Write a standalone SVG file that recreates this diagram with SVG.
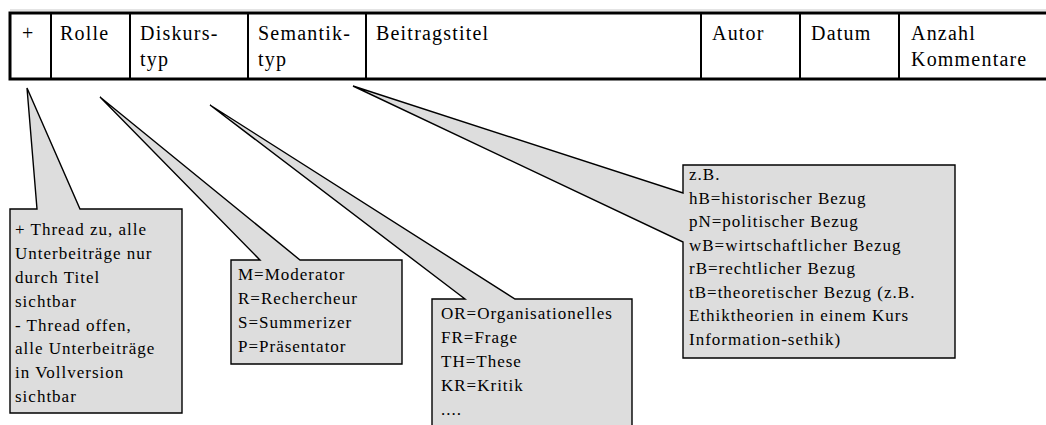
<svg xmlns="http://www.w3.org/2000/svg" width="1046" height="425" viewBox="0 0 1046 425">
<style>
.hd{font-family:"Liberation Serif","Times New Roman",serif;font-size:20px;letter-spacing:1.2px;fill:#000}
.ct{font-family:"Liberation Serif","Times New Roman",serif;font-size:17px;letter-spacing:1px;fill:#000}
.callout{fill:#dddddd;stroke:#000;stroke-width:1.4;stroke-linejoin:miter}
.div{stroke:#000;stroke-width:2}
</style>
<rect width="1046" height="425" fill="#fff"/>
<g id="table">
  <line x1="10" y1="10" x2="1046" y2="10" stroke="#c8c8c8" stroke-width="1"/>
  <rect x="10" y="13" width="1040" height="66" fill="#fff" stroke="#000" stroke-width="3"/>
  <line class="div" x1="51" y1="13" x2="51" y2="79"/>
  <line class="div" x1="130" y1="13" x2="130" y2="79"/>
  <line class="div" x1="248" y1="13" x2="248" y2="79"/>
  <line class="div" x1="366" y1="13" x2="366" y2="79"/>
  <line class="div" x1="701" y1="13" x2="701" y2="79"/>
  <line class="div" x1="800" y1="13" x2="800" y2="79"/>
  <line class="div" x1="899" y1="13" x2="899" y2="79"/>
  <text class="hd" x="22" y="40">+</text>
  <text class="hd" x="60" y="40">Rolle</text>
  <text class="hd" x="140" y="40">Diskurs-</text>
  <text class="hd" x="140" y="66">typ</text>
  <text class="hd" x="258" y="40">Semantik-</text>
  <text class="hd" x="258" y="66">typ</text>
  <text class="hd" x="376" y="40">Beitragstitel</text>
  <text class="hd" x="712" y="40">Autor</text>
  <text class="hd" x="811" y="40">Datum</text>
  <text class="hd" x="911" y="40">Anzahl</text>
  <text class="hd" x="911" y="66">Kommentare</text>
</g>
<g id="connectors"></g>
<g id="callout-plus">
  <path class="callout" d="M10,209 L37,209 L27,88 L80,209 L182,209 L182,413 L10,413 Z"/>
  <text class="ct" x="15" y="235">+ Thread zu, alle</text>
  <text class="ct" x="15" y="259">Unterbeiträge nur</text>
  <text class="ct" x="15" y="283">durch Titel</text>
  <text class="ct" x="15" y="307">sichtbar</text>
  <text class="ct" x="15" y="331">- Thread offen,</text>
  <text class="ct" x="15" y="354">alle Unterbeiträge</text>
  <text class="ct" x="15" y="378">in Vollversion</text>
  <text class="ct" x="15" y="402">sichtbar</text>
</g>
<g id="callout-rolle">
  <path class="callout" d="M231,260 L260,260 L100,97 L300,260 L402,260 L402,364 L231,364 Z"/>
  <text class="ct" x="238" y="280">M=Moderator</text>
  <text class="ct" x="238" y="304">R=Rechercheur</text>
  <text class="ct" x="238" y="328">S=Summerizer</text>
  <text class="ct" x="238" y="352">P=Präsentator</text>
</g>
<g id="callout-diskurs">
  <path class="callout" d="M432,299 L465,299 L210,105 L515,299 L632,299 L632,432 L432,432 Z"/>
  <text class="ct" x="441" y="319">OR=Organisationelles</text>
  <text class="ct" x="441" y="343">FR=Frage</text>
  <text class="ct" x="441" y="367">TH=These</text>
  <text class="ct" x="441" y="391">KR=Kritik</text>
  <text class="ct" x="441" y="415">....</text>
</g>
<g id="callout-semantik">
  <path class="callout" d="M683,165 L955,165 L955,358 L683,358 L683,242 L353,86 L683,193 Z"/>
  <text class="ct" x="689" y="180">z.B.</text>
  <text class="ct" x="689" y="204">hB=historischer Bezug</text>
  <text class="ct" x="689" y="227">pN=politischer Bezug</text>
  <text class="ct" x="689" y="251">wB=wirtschaftlicher Bezug</text>
  <text class="ct" x="689" y="274">rB=rechtlicher Bezug</text>
  <text class="ct" x="689" y="298">tB=theoretischer Bezug (z.B.</text>
  <text class="ct" x="689" y="321">Ethiktheorien in einem Kurs</text>
  <text class="ct" x="689" y="345">Information-sethik)</text>
</g>
</svg>
